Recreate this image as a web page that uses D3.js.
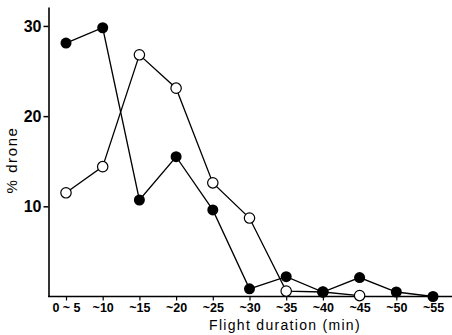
<!DOCTYPE html>
<html><head><meta charset="utf-8">
<script src="https://cdn.jsdelivr.net/npm/d3@7"></script>
<style>body{margin:0;background:#fff}svg{display:block}</style>
</head><body>
<svg id="c" width="452" height="335"></svg>
<script>
const categories = ["0 ~ 5","~10","~15","~20","~25","~30","~35","~40","~45","~50","~55"];
const filledValues = [28.1, 29.8, 10.7, 15.5, 9.6, 0.85, 2.2, 0.5, 2.1, 0.5, 0.0];
const openValues = [11.5, 14.4, 26.8, 23.1, 12.6, 8.7, 0.6, 0.5, 0.1];
const yTicks = [10, 20, 30];

const svg = d3.select("#c");
const x = d3.scalePoint().domain(categories).range([66, 433]);
const y = d3.scaleLinear().domain([0, 32.1]).range([296.5, 7]);

// axes
const yAxis = svg.append("g").attr("transform","translate(48.5,0)")
  .call(d3.axisLeft(y).tickValues(yTicks).tickSize(5).tickSizeOuter(0).tickFormat(d3.format("d")));
yAxis.select(".domain").attr("stroke","#000").attr("stroke-width",1.6);
yAxis.selectAll(".tick line").attr("stroke-width",1.5);
yAxis.selectAll("text").attr("font-family","Liberation Sans, Arial, sans-serif")
  .attr("font-weight","bold").attr("font-size",16).attr("dx",1).attr("dy","0.35em");

const xAxis = svg.append("g").attr("transform","translate(0,296.5)")
  .call(d3.axisBottom(x).tickSize(4).tickSizeOuter(0));
xAxis.select(".domain").attr("d","M48,0H452").attr("stroke","#000").attr("stroke-width",1.6);
xAxis.selectAll(".tick line").attr("stroke-width",1.2);
xAxis.selectAll("text").attr("font-family","Liberation Sans Narrow, Arial Narrow, Liberation Sans, sans-serif")
  .attr("font-weight","bold").attr("font-size",12.5).attr("y",7).attr("dy","0.71em");

// lines
const line = d3.line().x((d,i)=>x(categories[i])).y(d=>y(d));
svg.append("path").datum(openValues).attr("d",line).attr("fill","none").attr("stroke","#000").attr("stroke-width",1.3);
svg.append("path").datum(filledValues).attr("d",line).attr("fill","none").attr("stroke","#000").attr("stroke-width",1.3);

svg.selectAll("circle.o").data(openValues).enter().append("circle")
  .attr("class","o").attr("cx",(d,i)=>x(categories[i])).attr("cy",d=>y(d))
  .attr("r",5.2).attr("fill","#fff").attr("stroke","#000").attr("stroke-width",1.2);
svg.selectAll("circle.f").data(filledValues).enter().append("circle")
  .attr("class","f").attr("cx",(d,i)=>x(categories[i])).attr("cy",d=>y(d))
  .attr("r",5.5).attr("fill","#000");

// labels
svg.append("text").attr("x",285).attr("y",330).attr("text-anchor","middle")
  .attr("font-family","Liberation Sans, Arial, sans-serif").attr("font-size",14)
  .attr("letter-spacing",1.3).text("Flight duration (min)");
svg.append("text").attr("transform","translate(17,160) rotate(-90)").attr("text-anchor","middle")
  .attr("font-family","Liberation Sans, Arial, sans-serif").attr("font-size",15)
  .attr("letter-spacing",1.6).text("% drone");
</script>
</body></html>
